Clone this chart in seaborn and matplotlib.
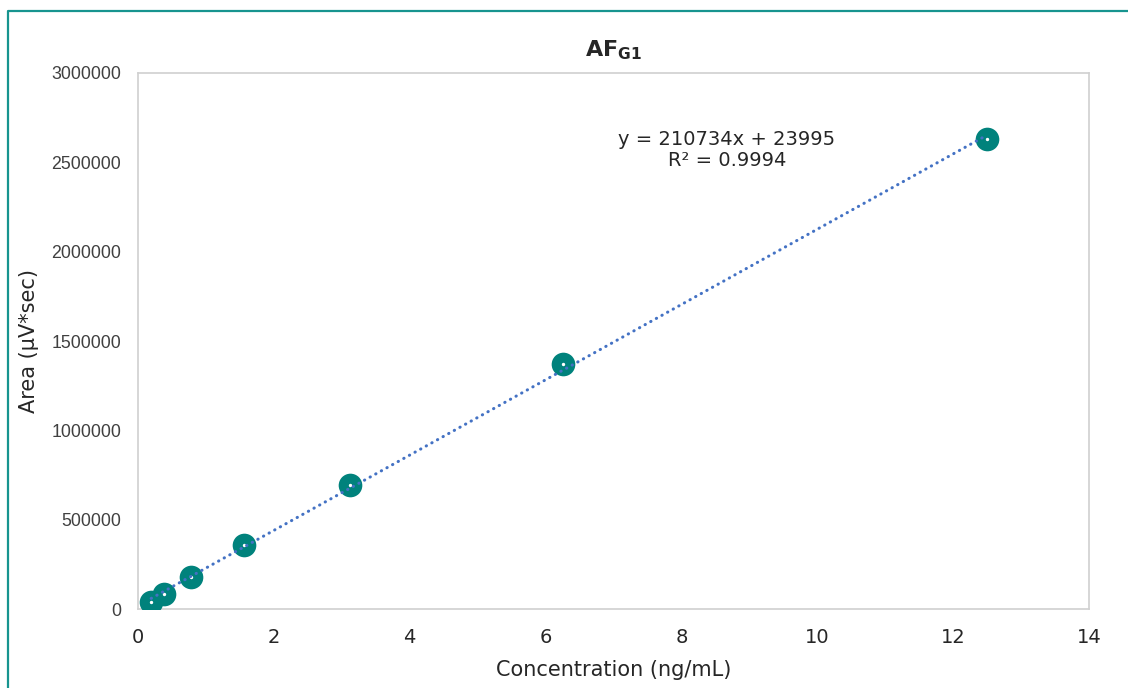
"""Calibration curve for AFG1 (area vs concentration) with linear trendline."""

import matplotlib.pyplot as plt
import numpy as np
import pandas as pd
import seaborn as sns
from matplotlib.lines import Line2D

concentration = [0.195, 0.39, 0.78, 1.5625, 3.125, 6.25, 12.5]
area = [39000, 84000, 179000, 358000, 694000, 1371000, 2630000]
equation_text = "y = 210734x + 23995\nR² = 0.9994"
x_ticks = [0, 2, 4, 6, 8, 10, 12, 14]
y_ticks = [0, 500000, 1000000, 1500000, 2000000, 2500000, 3000000]

TEAL = "#00827c"
TREND = "#4472c4"
TEXT = "#262626"
FONT = "DejaVu Sans"

sns.set_theme(style="white")
plt.rcParams.update(
    {
        "font.family": [FONT],
        "mathtext.fontset": "custom",
        "mathtext.rm": FONT,
        "mathtext.bf": f"{FONT}:bold",
        "text.color": TEXT,
    }
)

df = pd.DataFrame({"conc": concentration, "area": area})

fig = plt.figure(figsize=(11.28, 6.88), dpi=100)
ax = fig.add_axes([0.1223, 0.1148, 0.8431, 0.7791])

sns.scatterplot(
    data=df, x="conc", y="area", ax=ax, s=290, color=TEAL,
    edgecolor=TEAL, linewidth=0, zorder=3, legend=False,
)
ax.scatter(df["conc"], df["area"], s=2, color="white", zorder=4)
sns.regplot(
    data=df, x="conc", y="area", ax=ax, scatter=False, ci=None, truncate=True,
    line_kws={
        "color": TREND, "linewidth": 2.2, "linestyle": (0, (0.1, 2.0)),
        "dash_capstyle": "round", "zorder": 5,
    },
)

ax.text(8.67, 2569000, equation_text, ha="center", va="center",
        fontsize=14, linespacing=1.15, color=TEXT)

ax.set_xlim(0, 14)
ax.set_ylim(0, 3000000)
ax.set_xticks(x_ticks)
ax.set_yticks(y_ticks)
ax.set_yticklabels([str(v) for v in y_ticks], fontfamily="Liberation Sans")
ax.tick_params(axis="x", length=0, pad=14, labelsize=14, labelcolor=TEXT)
ax.tick_params(axis="y", length=0, pad=12, labelsize=12.8, labelcolor="#404040")

ax.set_xlabel("Concentration (ng/mL)", fontsize=15, color=TEXT, labelpad=9)
ax.set_ylabel("Area (µV*sec)", fontsize=15, color=TEXT, labelpad=9)
ax.set_title(r"AF$_{\mathbf{G1}}$", fontsize=16, fontweight="bold", pad=12)

for spine in ax.spines.values():
    spine.set_color("#d0d0d0")
    spine.set_linewidth(1.2)
ax.grid(False)

# teal frame around the chart (cropped on the right and bottom)
fx = 7.5 / 1128
fy = 1 - 10.5 / 688
fig.add_artist(Line2D([fx, fx, 1.0], [0.0, fy, fy], transform=fig.transFigure,
                      color="#17948f", linewidth=1.6))

fig.savefig("out.png", dpi=100)
